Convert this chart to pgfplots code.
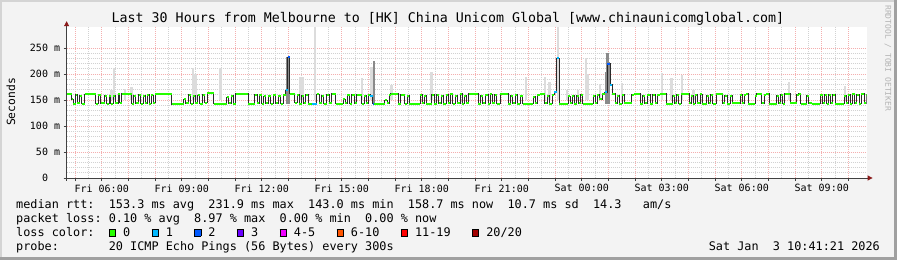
\documentclass[border=0pt]{standalone}
\usepackage{pgfplots}
\pgfplotsset{compat=1.18}
\usepackage{pgfplotstable}
\usetikzlibrary{arrows.meta}
\usepackage{fontspec}
\setmainfont{DejaVu Sans Mono}
\definecolor{bg}{HTML}{F3F3F3}
\definecolor{shadeA}{HTML}{D4D4D4}
\definecolor{shadeB}{HTML}{A0A0A0}
\definecolor{mgrid}{HTML}{F4AFAF}
\definecolor{mingrid}{HTML}{D2D2D2}
\definecolor{axgray}{HTML}{404040}
\definecolor{arrowred}{HTML}{8B1A1A}
\definecolor{smokeL}{HTML}{DCDCDC}
\definecolor{smokeD}{HTML}{8A8A8A}
\definecolor{med}{HTML}{2A2A2A}
\definecolor{lzero}{HTML}{26FF00}
\definecolor{lone}{HTML}{00B8FF}
\definecolor{ltwo}{HTML}{0059FF}
\definecolor{lthree}{HTML}{6A00FF}
\definecolor{lfour}{HTML}{EE00FF}
\definecolor{lsix}{HTML}{FF5500}
\definecolor{leleven}{HTML}{FF0000}
\definecolor{ltwenty}{HTML}{A10000}
\definecolor{wm}{HTML}{B4B4B4}
\newcommand{\sq}[1]{\makebox[0.602em][l]{\setlength{\fboxsep}{0pt}\setlength{\fboxrule}{0.6pt}\fcolorbox{black}{#1}{\rule{0pt}{6.8pt}\hspace{5.8pt}}}}

\pgfplotstableread{
x y
4.683 162
4.871 152
4.933 143
5.021 160
5.083 144
5.183 158
5.246 143
5.371 161
5.783 143
5.871 160
5.958 144
6.121 158
6.183 143
6.283 157
6.333 143
6.433 158
6.508 144
6.621 161
6.683 145
6.758 162
7.121 143
7.208 158
7.283 144
7.383 160
7.458 143
7.558 158
7.633 144
7.708 160
7.783 143
7.858 159
7.933 145
8.008 162
8.621 142
9.083 152
9.158 144
9.258 160
9.333 143
9.433 158
9.508 144
9.608 159
9.683 143
9.783 160
9.858 145
9.958 163
10.208 143
10.683 155
10.758 144
10.858 158
10.933 143
11.033 162
11.496 143
11.746 160
11.833 144
11.908 160
11.996 143
12.083 157
12.158 144
12.246 158
12.333 143
12.433 160
12.533 144
12.621 158
12.708 143
12.808 160
12.896 169
12.971 232
13.046 162
13.246 145
13.333 160
13.408 143
13.496 158
13.583 144
13.658 160
13.746 143
13.896 143
14.058 161
14.158 144
14.246 158
14.333 143
14.433 160
14.533 144
14.621 162
14.783 143
15.058 152
15.133 144
15.208 160
15.308 143
15.383 160
15.483 144
15.558 160
15.75 143
15.84 158
15.91 144
16.00 160
16.06 157
16.16 143
16.62 150
16.71 144
16.79 160
16.84 162
17.12 143
17.21 160
17.37 143
17.46 158
17.54 143
17.94 160
18.01 144
18.09 158
18.16 143
18.37 160
18.46 143
18.56 160
18.64 144
18.74 158
18.81 143
18.91 160
18.99 144
19.06 161
19.16 143
19.25 158
19.34 144
19.44 162
19.51 143
19.59 158
19.66 144
19.76 162
20.12 143
20.21 158
20.29 144
20.39 160
20.49 143
20.56 161
20.64 144
20.74 160
20.81 143
20.94 162
21.25 143
21.34 158
21.41 144
21.50 160
21.59 143
21.69 158
21.79 143
22.19 156
22.26 144
22.34 160
22.44 162
22.62 144
22.71 158
22.79 143
22.89 160
22.96 165
23.06 230
23.15 143
23.50 157
23.56 144
23.65 158
23.72 143
23.81 158
23.89 144
23.96 160
24.04 143
24.44 158
24.51 144
24.59 160
24.66 152
24.76 162
24.87 165
24.95 220
25.06 179
25.15 162
25.25 144
25.34 158
25.41 143
25.51 160
25.59 144
25.87 160
25.96 162
26.19 143
26.29 158
26.37 144
26.46 160
26.56 143
26.66 160
26.75 144
26.84 160
26.94 162
27.16 143
27.41 158
27.49 144
27.56 160
27.64 143
27.74 162
28.04 144
28.11 158
28.19 143
28.26 160
28.34 144
28.44 161
28.51 143
28.69 158
28.76 144
28.84 160
28.91 143
29.04 162
29.29 144
29.36 158
29.46 143
29.56 158
29.64 144
29.94 160
30.01 144
30.09 160
30.16 162
30.25 143
30.50 158
30.56 162
30.75 144
30.84 160
30.91 162
31.04 143
31.31 158
31.39 144
31.46 160
31.54 143
31.61 162
31.81 144
32.06 160
32.14 162
32.21 143
32.44 158
32.51 144
32.62 143
32.94 160
33.04 144
33.11 160
33.19 143
33.26 160
33.34 144
33.41 160
33.50 143
33.84 158
33.91 144
33.99 160
34.06 143
34.14 162
34.24 144
34.31 160
34.41 143
34.49 162
34.59 144
34.66 160
34.683 160
}\med

\pgfplotstableread{
x y d
6.37 150 20
6.46 150 61
6.88 150 22
7.11 150 25
9.43 150 62
9.51 150 50
10.45 150 61
13.45 150 45
13.53 150 45
14.00 150 140
15.75 150 42
16.11 150 64
16.86 150 29
18.36 150 54
21.92 150 45
22.62 150 45
22.79 150 35
23.11 150 140
23.44 150 20
23.87 150 20
24.16 150 80
24.24 150 50
24.69 150 30
25.50 150 32
27.01 150 51
27.36 150 42
27.76 150 48
28.19 150 20
31.77 150 35
33.87 150 26
}\smokelight

\pgfplotstableread{
x y d
12.95 143 90
13.01 143 88
16.21 143 82
24.90 143 60
24.97 143 97
25.03 143 80
}\smokedark

\begin{document}
\frenchspacing
\begin{tikzpicture}
\useasboundingbox (0,0) rectangle (897pt,260pt);
\fill[bg] (0,0) rectangle (897pt,260pt);
\fill[shadeA] (0,0) rectangle (2pt,260pt);
\fill[shadeA] (0,258pt) rectangle (897pt,260pt);
\fill[shadeB] (894pt,0) rectangle (897pt,260pt);
\fill[shadeB] (0,0) rectangle (897pt,3pt);

\begin{axis}[
  at={(66.6pt,82pt)}, anchor=south west,
  width=800pt, height=150.8pt, scale only axis,
  xmin=4.683, xmax=34.683, ymin=0, ymax=290,
  axis background/.style={fill=white},
  axis lines=left,
  axis line style={draw=axgray, line width=0.8pt, -{Triangle[length=5pt,width=5pt,color=arrowred]}, shorten >=-6pt, shorten <=-3pt},
  xtick={5,...,34},
  xticklabels={{},Fri 06:00,{},{},Fri 09:00,{},{},Fri 12:00,{},{},Fri 15:00,{},{},Fri 18:00,{},{},Fri 21:00,{},{},Sat 00:00,{},{},Sat 03:00,{},{},Sat 06:00,{},{},Sat 09:00,{}},
  minor x tick num=1,
  ytick={0,50,100,150,200,250},
  yticklabels={0\phantom{\ m},50 m,100 m,150 m,200 m,250 m},
  minor y tick num=4,
  grid=both,
  major grid style={draw=mgrid, dash pattern=on 1pt off 1pt, line width=0.7pt},
  minor grid style={draw=mingrid, dash pattern=on 1pt off 1pt, line width=0.7pt},
  tick align=outside,
  major tick length=3pt, minor tick length=0pt,
  tick style={draw=axgray, line width=0.6pt},
  tick label style={font=\fontsize{10}{12}\selectfont, text=black},
  yticklabel style={anchor=east},
  xticklabel style={anchor=north},
]
\addplot[draw=none, mark=none, forget plot, error bars/.cd, y dir=plus, y explicit, error mark=none, error bar style={draw=smokeL, line width=2.4pt}] table[x=x, y=y, y error=d] {\smokelight};
\addplot[draw=none, mark=none, forget plot, error bars/.cd, y dir=plus, y explicit, error mark=none, error bar style={draw=smokeD, line width=2.4pt}] table[x=x, y=y, y error=d] {\smokedark};
\addplot[med, line width=0.9pt, const plot, mark=none] table[x=x,y=y] {\med};
\addplot[lzero, line width=2pt, jump mark left, mark=none] table[x=x,y=y] {\med};
\addplot[lone, line width=2pt, jump mark left, mark=none] coordinates {(12.896,169) (12.971,169)};
\addplot[ltwo, line width=2pt, jump mark left, mark=none] coordinates {(12.971,232) (13.046,232)};
\addplot[lone, line width=2pt, jump mark left, mark=none] coordinates {(13.896,143) (14.058,143)};
\addplot[lone, line width=2pt, jump mark left, mark=none] coordinates {(16.06,157) (16.16,157)};
\addplot[ltwo, line width=2pt, jump mark left, mark=none] coordinates {(16.16,143) (16.22,143)};
\addplot[lone, line width=2pt, jump mark left, mark=none] coordinates {(22.96,165) (23.06,165)};
\addplot[lone, line width=2pt, jump mark left, mark=none] coordinates {(23.06,230) (23.15,230)};
\addplot[lone, line width=2pt, jump mark left, mark=none] coordinates {(24.87,165) (24.95,165)};
\addplot[ltwo, line width=2pt, jump mark left, mark=none] coordinates {(24.95,220) (25.06,220)};
\addplot[lone, line width=2pt, jump mark left, mark=none] coordinates {(25.06,179) (25.15,179)};
\end{axis}

\node[anchor=base, font=\fontsize{13.3}{16}\selectfont] at (448pt,237pt) {Last 30 Hours from Melbourne to [HK] China Unicom Global [www.chinaunicomglobal.com]};
\node[rotate=90, font=\fontsize{11.3}{13}\selectfont] at (11pt,158pt) {Seconds};
\node[rotate=-90, anchor=west, text=wm, font=\fontsize{8}{10}\selectfont, inner sep=0pt] at (888pt,255pt) {RRDTOOL / TOBI OETIKER};
\begin{scope}[every node/.style={anchor=base west, inner sep=0pt, font=\fontsize{11.83}{14}\selectfont}]
\node at (16pt,52pt) {median rtt:~~153.3 ms avg~~231.9 ms max~~143.0 ms min~~158.7 ms now~~10.7 ms sd~~14.3~~~am/s};
\node at (16pt,38pt) {packet loss: 0.10 \% avg~~8.97 \% max~~0.00 \% min~~0.00 \% now};
\node at (16pt,24pt) {loss color:~~\sq{lzero} 0~~~\sq{lone} 1~~~\sq{ltwo} 2~~~\sq{lthree} 3~~~\sq{lfour} 4-5~~~\sq{lsix} 6-10~~~\sq{leleven} 11-19~~~\sq{ltwenty} 20/20};
\node at (16pt,10pt) {probe:~~~~~~~20 ICMP Echo Pings (56 Bytes) every 300s};
\node[anchor=base east] at (880pt,10pt) {Sat Jan~~3 10:41:21 2026};
\end{scope}
\end{tikzpicture}
\end{document}
